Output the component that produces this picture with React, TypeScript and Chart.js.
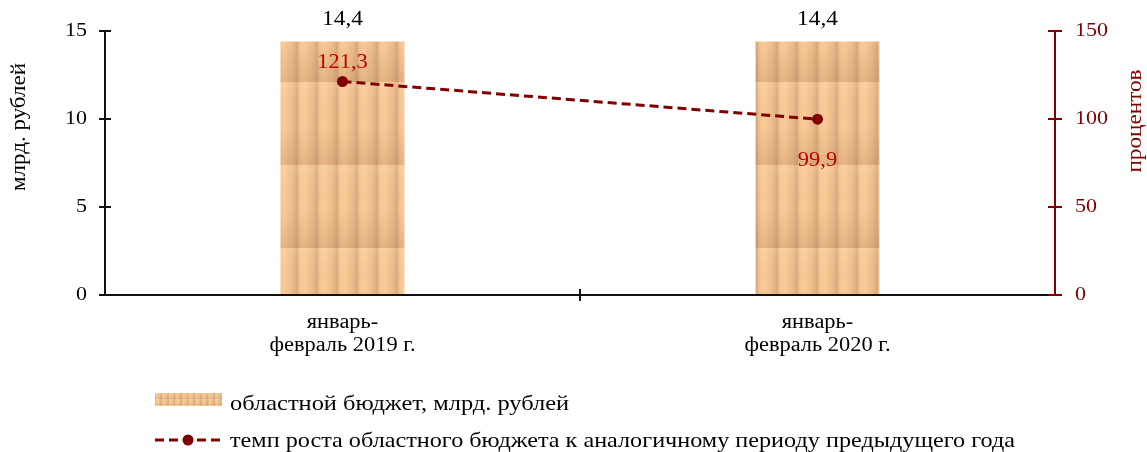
import React, { useEffect, useRef } from 'react';
import { Chart, registerables } from 'chart.js';

Chart.register(...registerables);

const categories: string[][] = [
  ['январь-', 'февраль 2019 г.'],
  ['январь-', 'февраль 2020 г.'],
];
const budgetValues: number[] = [14.4, 14.4];
const growthValues: number[] = [121.3, 99.9];
const budgetLabel = 'областной бюджет, млрд. рублей';
const growthLabel = 'темп роста областного бюджета к аналогичному периоду предыдущего года';
const leftTitle = 'млрд. рублей';
const rightTitle = 'процентов';

const FONT = "'Liberation Serif', 'Times New Roman', serif";
const DARK_RED = '#800000';
const LABEL_RED = '#C00000';

const fmt = (v: number) => v.toFixed(1).replace('.', ',');

function makeTile(w: number, h: number): HTMLCanvasElement {
  const c = document.createElement('canvas');
  c.width = w;
  c.height = h;
  const g = c.getContext('2d')!;
  const hg = g.createLinearGradient(0, 0, w, 0);
  hg.addColorStop(0, '#D2A67E');
  hg.addColorStop(0.1, '#F4C592');
  hg.addColorStop(0.35, '#FDCE99');
  hg.addColorStop(0.8, '#ECBD8B');
  hg.addColorStop(1, '#DAAD83');
  g.fillStyle = hg;
  g.fillRect(0, 0, w, h);
  const vg = g.createLinearGradient(0, 0, 0, h);
  vg.addColorStop(0, 'rgba(255,240,220,0.12)');
  vg.addColorStop(0.5, 'rgba(150,100,50,0.02)');
  vg.addColorStop(1, 'rgba(120,70,30,0.18)');
  g.fillStyle = vg;
  g.fillRect(0, 0, w, h);
  return c;
}

function drawText(
  c: CanvasRenderingContext2D,
  text: string,
  x: number,
  y: number,
  size: number,
  color: string,
  align: CanvasTextAlign,
  sx: number,
  rotate = 0
) {
  c.save();
  c.translate(x, y);
  if (rotate) c.rotate(rotate);
  c.scale(sx, 1);
  c.font = `${size}px ${FONT}`;
  c.fillStyle = color;
  c.textAlign = align;
  c.textBaseline = 'middle';
  c.fillText(text, 0, 0);
  c.restore();
}

export default function App() {
  const ref = useRef<HTMLCanvasElement | null>(null);

  useEffect(() => {
    const canvas = ref.current!;
    const ctx = canvas.getContext('2d')!;
    const tile = makeTile(20, 83);
    const pattern = ctx.createPattern(tile, 'repeat')!;
    pattern.setTransform(new DOMMatrix().translate(17, 82));
    const legendPattern = ctx.createPattern(tile, 'repeat')!;

    const overlayPlugin = {
      id: 'overlay',
      afterDatasetsDraw(chart: any) {
        const c: CanvasRenderingContext2D = chart.ctx;
        const area = chart.chartArea;
        const x = chart.scales.x;
        const y = chart.scales.y;
        const y1 = chart.scales.y1;
        c.save();
        // axis lines and crossing ticks
        c.lineWidth = 2;
        c.strokeStyle = '#111';
        c.beginPath();
        c.moveTo(area.left, area.top);
        c.lineTo(area.left, area.bottom);
        c.moveTo(area.left, area.bottom);
        c.lineTo(area.right, area.bottom);
        y.ticks.forEach((t: any) => {
          const py = Math.round(y.getPixelForValue(t.value));
          c.moveTo(area.left - 6, py);
          c.lineTo(area.left + 6, py);
        });
        for (let i = 0; i < categories.length - 1; i++) {
          const px = (x.getPixelForValue(i) + x.getPixelForValue(i + 1)) / 2;
          c.moveTo(px, area.bottom - 6);
          c.lineTo(px, area.bottom + 6);
        }
        c.stroke();
        c.strokeStyle = DARK_RED;
        c.beginPath();
        c.moveTo(area.right, area.top);
        c.lineTo(area.right, area.bottom);
        y1.ticks.forEach((t: any) => {
          const py = Math.round(y1.getPixelForValue(t.value));
          c.moveTo(area.right - 7, py);
          c.lineTo(area.right + 7, py);
        });
        c.stroke();

        // tick labels
        y.ticks.forEach((t: any) => {
          drawText(c, String(t.value), area.left - 18, y.getPixelForValue(t.value), 18.5, '#000', 'right', 1.19);
        });
        y1.ticks.forEach((t: any) => {
          drawText(c, String(t.value), area.right + 20, y1.getPixelForValue(t.value), 18.5, DARK_RED, 'left', 1.19);
        });
        categories.forEach((lines, i) => {
          const px = x.getPixelForValue(i);
          lines.forEach((ln, j) => {
            drawText(c, ln, px, area.bottom + 28 + j * 23, 20, '#000', 'center', 1.12);
          });
        });

        // data labels
        const barMeta = chart.getDatasetMeta(1);
        barMeta.data.forEach((el: any, i: number) => {
          drawText(c, fmt(budgetValues[i]), el.x, el.y - 22, 22, '#000', 'center', 1.06);
        });
        const lineMeta = chart.getDatasetMeta(0);
        lineMeta.data.forEach((el: any, i: number) => {
          const above = i === 0 || growthValues[i] > growthValues[i - 1];
          drawText(c, fmt(growthValues[i]), el.x, above ? el.y - 19 : el.y + 41, 22, LABEL_RED, 'center', 1.02);
        });

        // axis titles
        drawText(c, leftTitle, 20, area.top + 96, 20, '#000', 'center', 1.15, -Math.PI / 2);
        drawText(c, rightTitle, 1136, area.top + 90, 20, DARK_RED, 'center', 1.16, -Math.PI / 2);

        // legend
        const lx = area.left + 50;
        const r1 = 399;
        const r2 = 440;
        legendPattern.setTransform(new DOMMatrix().translate(lx, r1 - 6).scale(0.33, 0.075));
        c.fillStyle = legendPattern as any;
        c.fillRect(lx, r1 - 6, 67, 13);
        c.strokeStyle = DARK_RED;
        c.lineWidth = 3;
        c.setLineDash([9, 5]);
        c.beginPath();
        c.moveTo(lx, r2);
        c.lineTo(lx + 67, r2);
        c.stroke();
        c.setLineDash([]);
        c.fillStyle = DARK_RED;
        c.beginPath();
        c.arc(lx + 33, r2, 5.5, 0, Math.PI * 2);
        c.fill();
        drawText(c, budgetLabel, lx + 75, r1 + 5, 22, '#000', 'left', 1.11);
        drawText(c, growthLabel, lx + 75, r2 + 1, 22, '#000', 'left', 1.1);
        c.restore();
      },
    };

    const chart = new Chart(canvas, {
      type: 'bar',
      data: {
        labels: categories,
        datasets: [
          {
            type: 'line',
            label: growthLabel,
            data: growthValues,
            yAxisID: 'y1',
            borderColor: DARK_RED,
            borderWidth: 3,
            borderDash: [9, 5],
            pointRadius: 5.5,
            pointBackgroundColor: DARK_RED,
            pointBorderColor: DARK_RED,
            pointBorderWidth: 0,
            fill: false,
            tension: 0,
            order: 0,
          } as any,
          {
            type: 'bar',
            label: budgetLabel,
            data: budgetValues,
            yAxisID: 'y',
            backgroundColor: pattern as any,
            borderWidth: 0,
            categoryPercentage: 1,
            barPercentage: 0.261,
            order: 1,
          },
        ],
      },
      options: {
        responsive: false,
        animation: false,
        maintainAspectRatio: false,
        layout: { padding: { top: 31, left: 0, right: 0, bottom: 0 } },
        plugins: {
          legend: { display: false },
          tooltip: { enabled: false },
        },
        scales: {
          x: {
            offset: true,
            grid: { display: false, drawTicks: false },
            border: { display: false },
            ticks: { display: false },
            afterFit(s: any) {
              s.height = 157;
            },
          },
          y: {
            position: 'left',
            min: 0,
            max: 15,
            grid: { display: false, drawTicks: false },
            border: { display: false },
            ticks: { stepSize: 5, display: false },
            afterFit(s: any) {
              s.width = 105;
            },
          },
          y1: {
            position: 'right',
            min: 0,
            max: 150,
            grid: { display: false, drawTicks: false },
            border: { display: false },
            ticks: { stepSize: 50, display: false },
            afterFit(s: any) {
              s.width = 92;
            },
          },
        },
      },
      plugins: [overlayPlugin],
    });
    return () => chart.destroy();
  }, []);

  return (
    <div style={{ position: 'absolute', left: 0, top: 0, width: 1147, height: 452 }}>
      <canvas ref={ref} width={1147} height={452} style={{ display: 'block', width: 1147, height: 452 }} />
    </div>
  );
}
